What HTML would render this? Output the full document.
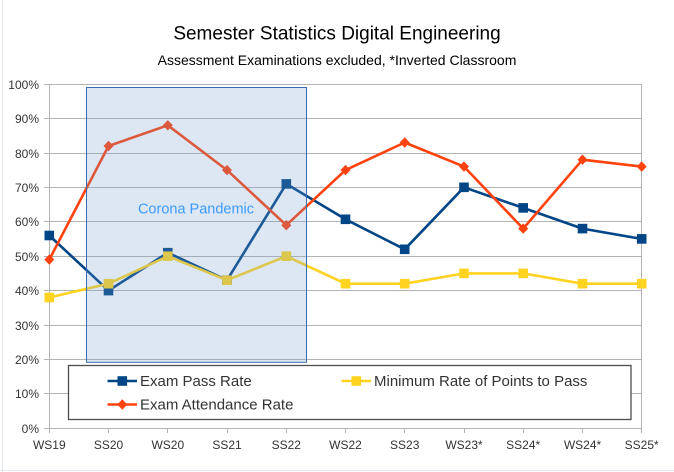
<!DOCTYPE html>
<html>
<head>
<meta charset="utf-8">
<style>
  html,body{margin:0;padding:0;background:#fff;}
  body{width:674px;height:472px;overflow:hidden;}
  svg{display:block;}
  text{font-family:"Liberation Sans", Arial, sans-serif;}
</style>
</head>
<body>
<svg width="674" height="472" viewBox="0 0 674 472" xmlns="http://www.w3.org/2000/svg">
  <rect x="0" y="0" width="674" height="472" fill="#ffffff"/>
  <!-- faint sheet artifacts -->
  <line x1="2.5" y1="0" x2="2.5" y2="472" stroke="#e3e8ef" stroke-width="1"/>
  <line x1="0" y1="470.5" x2="674" y2="470.5" stroke="#e3e8ef" stroke-width="1"/>

  <!-- Titles -->
  <text x="337" y="39.5" font-size="19" text-anchor="middle" fill="#000">Semester Statistics Digital Engineering</text>
  <text x="337" y="65" font-size="14" text-anchor="middle" fill="#000">Assessment Examinations excluded, *Inverted Classroom</text>

  <!-- Gridlines -->
  <g stroke="#b3b3b3" stroke-width="1" shape-rendering="crispEdges">
    <line x1="44" y1="84.5" x2="642" y2="84.5"/>
    <line x1="44" y1="118.5" x2="642" y2="118.5"/>
    <line x1="44" y1="153.5" x2="642" y2="153.5"/>
    <line x1="44" y1="187.5" x2="642" y2="187.5"/>
    <line x1="44" y1="221.5" x2="642" y2="221.5"/>
    <line x1="44" y1="256.5" x2="642" y2="256.5"/>
    <line x1="44" y1="290.5" x2="642" y2="290.5"/>
    <line x1="44" y1="325.5" x2="642" y2="325.5"/>
    <line x1="44" y1="359.5" x2="642" y2="359.5"/>
    <line x1="44" y1="393.5" x2="642" y2="393.5"/>
    <line x1="44" y1="428.5" x2="642" y2="428.5"/>
    <!-- y axis -->
    <line x1="49.5" y1="84" x2="49.5" y2="433"/>
    <!-- right border -->
    <line x1="641.5" y1="84" x2="641.5" y2="433"/>
    <!-- x ticks -->
    <line x1="108.5" y1="428" x2="108.5" y2="433"/>
    <line x1="167.5" y1="428" x2="167.5" y2="433"/>
    <line x1="227.5" y1="428" x2="227.5" y2="433"/>
    <line x1="286.5" y1="428" x2="286.5" y2="433"/>
    <line x1="345.5" y1="428" x2="345.5" y2="433"/>
    <line x1="404.5" y1="428" x2="404.5" y2="433"/>
    <line x1="464.5" y1="428" x2="464.5" y2="433"/>
    <line x1="523.5" y1="428" x2="523.5" y2="433"/>
    <line x1="582.5" y1="428" x2="582.5" y2="433"/>
  </g>

  <!-- Y labels -->
  <g font-size="12" fill="#333" text-anchor="end">
    <text x="39" y="89">100%</text>
    <text x="39" y="123">90%</text>
    <text x="39" y="158">80%</text>
    <text x="39" y="192">70%</text>
    <text x="39" y="226">60%</text>
    <text x="39" y="261">50%</text>
    <text x="39" y="295">40%</text>
    <text x="39" y="330">30%</text>
    <text x="39" y="364">20%</text>
    <text x="39" y="398">10%</text>
    <text x="39" y="433">0%</text>
  </g>

  <!-- X labels -->
  <g font-size="12" fill="#333" text-anchor="middle">
    <text x="49.3" y="449">WS19</text>
    <text x="108.5" y="449">SS20</text>
    <text x="167.8" y="449">WS20</text>
    <text x="227" y="449">SS21</text>
    <text x="286.3" y="449">SS22</text>
    <text x="345.5" y="449">WS22</text>
    <text x="404.7" y="449">SS23</text>
    <text x="464" y="449">WS23*</text>
    <text x="523.2" y="449">SS24*</text>
    <text x="582.5" y="449">WS24*</text>
    <text x="641.7" y="449">SS25*</text>
  </g>

  <!-- Exam Pass Rate -->
  <polyline fill="none" stroke="#004586" stroke-width="2.6" stroke-linejoin="round"
    points="49.3,235.5 108.5,290.6 167.8,252.7 227,280.2 286.3,183.9 345.5,219.3 404.7,249.3 464,187.3 523.2,207.9 582.5,228.6 641.7,238.9"/>
  <g fill="#004586">
    <rect x="44.5" y="230.7" width="9.6" height="9.6"/>
    <rect x="103.7" y="285.8" width="9.6" height="9.6"/>
    <rect x="163" y="247.9" width="9.6" height="9.6"/>
    <rect x="222.2" y="275.4" width="9.6" height="9.6"/>
    <rect x="281.5" y="179.1" width="9.6" height="9.6"/>
    <rect x="340.7" y="214.5" width="9.6" height="9.6"/>
    <rect x="399.9" y="244.5" width="9.6" height="9.6"/>
    <rect x="459.2" y="182.5" width="9.6" height="9.6"/>
    <rect x="518.4" y="203.1" width="9.6" height="9.6"/>
    <rect x="577.7" y="223.8" width="9.6" height="9.6"/>
    <rect x="636.9" y="234.1" width="9.6" height="9.6"/>
  </g>

  <!-- Minimum Rate of Points to Pass -->
  <polyline fill="none" stroke="#ffd320" stroke-width="2.6" stroke-linejoin="round"
    points="49.3,297.5 108.5,283.7 167.8,256.2 227,280.2 286.3,256.2 345.5,283.7 404.7,283.7 464,273.4 523.2,273.4 582.5,283.7 641.7,283.7"/>
  <g fill="#ffd320">
    <rect x="44.5" y="292.7" width="9.6" height="9.6"/>
    <rect x="103.7" y="278.9" width="9.6" height="9.6"/>
    <rect x="163" y="251.4" width="9.6" height="9.6"/>
    <rect x="222.2" y="275.4" width="9.6" height="9.6"/>
    <rect x="281.5" y="251.4" width="9.6" height="9.6"/>
    <rect x="340.7" y="278.9" width="9.6" height="9.6"/>
    <rect x="399.9" y="278.9" width="9.6" height="9.6"/>
    <rect x="459.2" y="268.6" width="9.6" height="9.6"/>
    <rect x="518.4" y="268.6" width="9.6" height="9.6"/>
    <rect x="577.7" y="278.9" width="9.6" height="9.6"/>
    <rect x="636.9" y="278.9" width="9.6" height="9.6"/>
  </g>

  <!-- Exam Attendance Rate -->
  <polyline fill="none" stroke="#ff420e" stroke-width="2.6" stroke-linejoin="round"
    points="49.3,259.6 108.5,146 167.8,125.3 227,170.1 286.3,225.2 345.5,170.1 404.7,142.5 464,166.6 523.2,228.6 582.5,159.7 641.7,166.6"/>
  <g fill="#ff420e">
    <polygon points="49.3,254.4 54.3,259.6 49.3,264.8 44.3,259.6"/>
    <polygon points="108.5,140.8 113.5,146 108.5,151.2 103.5,146"/>
    <polygon points="167.8,120.1 172.8,125.3 167.8,130.5 162.8,125.3"/>
    <polygon points="227,164.9 232,170.1 227,175.3 222,170.1"/>
    <polygon points="286.3,220 291.3,225.2 286.3,230.4 281.3,225.2"/>
    <polygon points="345.5,164.9 350.5,170.1 345.5,175.3 340.5,170.1"/>
    <polygon points="404.7,137.3 409.7,142.5 404.7,147.7 399.7,142.5"/>
    <polygon points="464,161.4 469,166.6 464,171.8 459,166.6"/>
    <polygon points="523.2,223.4 528.2,228.6 523.2,233.8 518.2,228.6"/>
    <polygon points="582.5,154.5 587.5,159.7 582.5,164.9 577.5,159.7"/>
    <polygon points="641.7,161.4 646.7,166.6 641.7,171.8 636.7,166.6"/>
  </g>

  <!-- Corona box overlay -->
  <rect x="86.5" y="87.5" width="220" height="274.8" fill="rgba(114,159,207,0.25)" stroke="#3a6db0" stroke-width="1"/>
  <text x="196" y="213.5" font-size="14.5" text-anchor="middle" fill="#3d9bff">Corona Pandemic</text>

  <!-- Legend -->
  <rect x="68.5" y="365.5" width="562.5" height="54" fill="#ffffff" stroke="#4d4d4d" stroke-width="1.3"/>
  <line x1="107.5" y1="381" x2="137" y2="381" stroke="#004586" stroke-width="2.6"/>
  <rect x="117.5" y="376.2" width="9.6" height="9.6" fill="#004586"/>
  <text x="140" y="386" font-size="15" fill="#333">Exam Pass Rate</text>

  <line x1="341.5" y1="381" x2="371" y2="381" stroke="#ffd320" stroke-width="2.6"/>
  <rect x="351.5" y="376.2" width="9.6" height="9.6" fill="#ffd320"/>
  <text x="374" y="386" font-size="15" fill="#333">Minimum Rate of Points to Pass</text>

  <line x1="107.5" y1="404.5" x2="137" y2="404.5" stroke="#ff420e" stroke-width="2.6"/>
  <polygon points="122.3,399.3 127.3,404.5 122.3,409.7 117.3,404.5" fill="#ff420e"/>
  <text x="140" y="409.5" font-size="15" fill="#333">Exam Attendance Rate</text>
</svg>
</body>
</html>
